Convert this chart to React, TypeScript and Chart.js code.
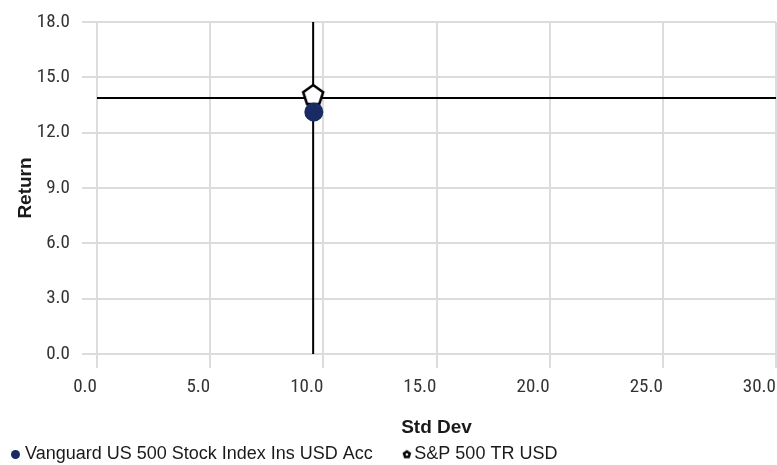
import { useEffect, useRef } from "react";
import { Chart, registerables } from "chart.js";

Chart.register(...registerables);

// ---- data ----
const seriesNames = ["Vanguard US 500 Stock Index Ins USD Acc", "S&P 500 TR USD"];
const stdDevValues = [9.58, 9.55];
const returnValues = [13.12, 13.88];
const xTickValues = [0, 5, 10, 15, 20, 25, 30];
const yTickValues = [0, 3, 6, 9, 12, 15, 18];
const xAxisTitle = "Std Dev";
const yAxisTitle = "Return";

const NAVY = "#182b64";
const GRID = "#dcdcdc";
const TICK_FONT = '"Roboto Condensed", "Liberation Sans Narrow", "DejaVu Sans Condensed", sans-serif';
const TEXT_FONT = '"Liberation Sans", Arial, sans-serif';

function pentagonCanvas(size: number, r: number, dy: number, fill: string, stroke: string, lw: number, hole: number) {
  const c = document.createElement("canvas");
  c.width = size;
  c.height = size;
  const ctx = c.getContext("2d")!;
  const cx = size / 2;
  const cy = size / 2 + dy;
  ctx.beginPath();
  for (let i = 0; i < 5; i++) {
    const a = -Math.PI / 2 + (i * 2 * Math.PI) / 5;
    const px = cx + r * Math.cos(a);
    const py = cy + r * Math.sin(a);
    if (i === 0) ctx.moveTo(px, py);
    else ctx.lineTo(px, py);
  }
  ctx.closePath();
  ctx.fillStyle = fill;
  ctx.fill();
  if (lw > 0) {
    ctx.lineWidth = lw;
    ctx.strokeStyle = stroke;
    ctx.lineJoin = "miter";
    ctx.stroke();
  }
  if (hole > 0) {
    ctx.beginPath();
    ctx.arc(cx, cy, hole, 0, Math.PI * 2);
    ctx.fillStyle = "#ffffff";
    ctx.fill();
  }
  return c;
}

export default function App() {
  const ref = useRef<HTMLCanvasElement | null>(null);

  useEffect(() => {
    if (!ref.current) return;
    const bigPent = pentagonCanvas(30, 10.5, -2.5, "#ffffff", "#000000", 2.5, 0);
    const smallPent = pentagonCanvas(12, 4.6, 0, "#000000", "#000000", 0, 1.3);

    const xMin = xTickValues[0];
    const xMax = xTickValues[xTickValues.length - 1];
    const yMin = yTickValues[0];
    const yMax = yTickValues[yTickValues.length - 1];

    const legendPlugin = {
      id: "customLegend",
      afterDraw(chart: any) {
        const ctx = chart.ctx as CanvasRenderingContext2D;
        ctx.save();
        const y = 454.5;
        ctx.font = `18px ${TEXT_FONT}`;
        ctx.textBaseline = "middle";
        ctx.textAlign = "left";
        ctx.beginPath();
        ctx.arc(15.5, y, 4.5, 0, Math.PI * 2);
        ctx.fillStyle = NAVY;
        ctx.fill();
        ctx.fillStyle = "#1a1a1a";
        ctx.fillText(seriesNames[0], 25, y);
        const w = ctx.measureText(seriesNames[0]).width;
        const x2 = 25 + w + 34;
        ctx.drawImage(smallPent, x2 - smallPent.width / 2, y - smallPent.height / 2);
        ctx.fillText(seriesNames[1], x2 + 7.5, y);
        ctx.restore();
      },
    };

    const chart = new Chart(ref.current, {
      type: "scatter",
      data: {
        datasets: [
          {
            label: seriesNames[0],
            data: [{ x: stdDevValues[0], y: returnValues[0] }],
            pointStyle: "circle",
            pointRadius: 9.5,
            pointBackgroundColor: NAVY,
            pointBorderColor: NAVY,
            pointBorderWidth: 0,
          },
          {
            label: seriesNames[1],
            data: [{ x: stdDevValues[1], y: returnValues[1] }],
            pointStyle: bigPent as any,
            pointRadius: 10,
          },
          {
            label: "h",
            data: [
              { x: xMin, y: returnValues[1] },
              { x: xMax, y: returnValues[1] },
            ],
            showLine: true,
            pointRadius: 0,
            borderColor: "#000000",
            borderWidth: 2,
            clip: { left: 0, right: 2, top: 2, bottom: 2 },
          },
          {
            label: "v",
            data: [
              { x: stdDevValues[1], y: yMin },
              { x: stdDevValues[1], y: yMax },
            ],
            showLine: true,
            pointRadius: 0,
            borderColor: "#000000",
            borderWidth: 2,
          },
        ],
      },
      options: {
        responsive: false,
        animation: false,
        events: [],
        layout: { autoPadding: false, padding: { top: 22, right: 1, left: 0, bottom: 0 } },
        plugins: {
          legend: { display: false },
          tooltip: { enabled: false },
        },
        scales: {
          x: {
            type: "linear",
            min: xMin,
            max: xMax,
            afterFit: (s: any) => {
              s.height = 111;
              s.paddingLeft = 0;
              s.paddingRight = 0;
            },
            ticks: {
              stepSize: xTickValues[1] - xTickValues[0],
              align: "end",
              maxRotation: 0,
              autoSkip: false,
              padding: 8,
              color: "#333333",
              font: { family: TICK_FONT, size: 19 },
              callback: (v: any) => Number(v).toFixed(1),
            },
            grid: { color: GRID, lineWidth: 2, tickLength: 14, drawTicks: true },
            border: { display: false },
            title: {
              display: true,
              text: xAxisTitle,
              color: "#1a1a1a",
              font: { family: TEXT_FONT, size: 19, weight: "bold" },
              padding: { top: 0, bottom: 25.6 },
            },
          },
          y: {
            type: "linear",
            min: yMin,
            max: yMax,
            afterFit: (s: any) => {
              s.width = 97;
              s.paddingTop = 0;
              s.paddingBottom = 0;
            },
            ticks: {
              stepSize: yTickValues[1] - yTickValues[0],
              padding: 12,
              autoSkip: false,
              color: "#333333",
              font: { family: TICK_FONT, size: 19 },
              callback: (v: any) => Number(v).toFixed(1),
            },
            grid: { color: GRID, lineWidth: 2, tickLength: 15, drawTicks: true },
            border: { display: false },
            title: {
              display: true,
              text: yAxisTitle,
              color: "#1a1a1a",
              font: { family: TEXT_FONT, size: 19, weight: "bold" },
              padding: { top: 14, bottom: 0 },
            },
          },
        },
      } as any,
      plugins: [legendPlugin],
    });
    return () => chart.destroy();
  }, []);

  return (
    <div style={{ position: "absolute", left: 0, top: 0, width: 777, height: 465, background: "#ffffff" }}>
      <canvas ref={ref} width={777} height={465} />
    </div>
  );
}
